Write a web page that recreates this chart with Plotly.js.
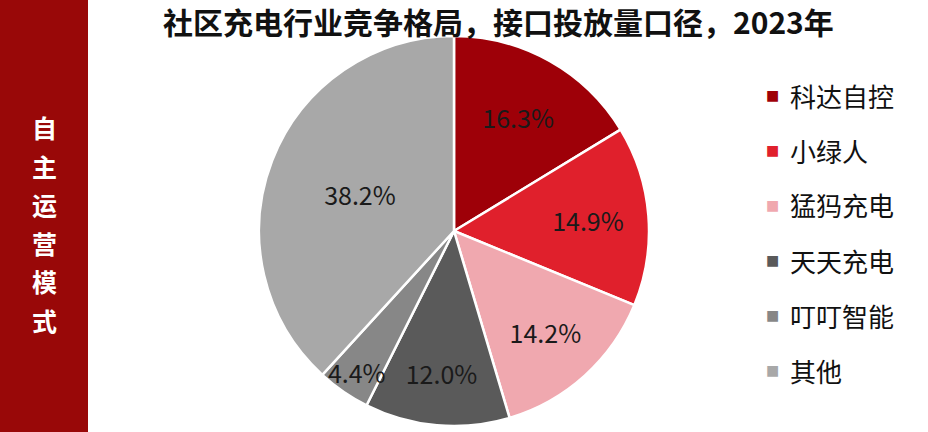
<!DOCTYPE html>
<html>
<head>
<meta charset="utf-8">
<script src="https://cdn.plot.ly/plotly-3.0.1.min.js"></script>
<style>html,body{margin:0;padding:0;background:#fff;}#chart{width:928px;height:432px;}</style>
</head>
<body>
<div id="chart"></div>
<script>
// Data
const companies = ["科达自控", "小绿人", "猛犸充电", "天天充电", "叮叮智能", "其他"];
const shares = [16.3, 14.9, 14.2, 12.0, 4.4, 38.2];
const sliceColors = ["#9E0008", "#E0202C", "#F0A8AF", "#5A5A5A", "#878787", "#A8A8A8"];
const chartTitle = "社区充电行业竞争格局，接口投放量口径，2023年";
const sideLabel = "自主运营模式";

const W = 928, H = 432;
const cjk = '"Noto Sans CJK SC", "Noto Sans", sans-serif';

const trace = {
  type: 'pie',
  labels: companies,
  values: shares,
  sort: false,
  direction: 'clockwise',
  rotation: 0,
  marker: {colors: sliceColors, line: {color: '#ffffff', width: 2.5}},
  texttemplate: '%{value:.1f}%',
  textposition: 'inside',
  insidetextorientation: 'horizontal',
  textfont: {family: cjk, size: 25, color: '#1a1a1a'},
  hoverinfo: 'label+percent',
  showlegend: false,
  domain: {x: [259 / W, 649 / W], y: [1 - 426 / H, 1 - 36 / H]}
};

const annotations = [];
const shapes = [];

// Left vertical banner
shapes.push({type: 'rect', xref: 'paper', yref: 'paper', x0: 0, x1: 88 / W, y0: 0, y1: 1,
  fillcolor: '#990808', line: {width: 0}, layer: 'below'});
const chars = Array.from(sideLabel);
chars.forEach((c, i) => {
  annotations.push({xref: 'paper', yref: 'paper', x: 44 / W, y: 1 - (127 + i * 38.5) / H,
    text: '<b>' + c + '</b>', showarrow: false, font: {family: cjk, size: 25, color: '#ffffff'},
    xanchor: 'center', yanchor: 'middle'});
});

// Title
annotations.push({xref: 'paper', yref: 'paper', x: 498 / W, y: 1 - 21 / H, text: '<b>' + chartTitle + '</b>',
  showarrow: false, borderpad: 0, font: {family: cjk, size: 30, color: '#111111'}, xanchor: 'center', yanchor: 'middle'});

// Legend (custom, for spacing)
companies.forEach((name, i) => {
  const yy = 1 - (95 + i * 55) / H;
  annotations.push({xref: 'paper', yref: 'paper', x: 772 / W, y: yy, text: '■', showarrow: false,
    font: {family: 'DejaVu Sans', size: 14, color: sliceColors[i]}, xanchor: 'center', yanchor: 'middle'});
  annotations.push({xref: 'paper', yref: 'paper', x: 788 / W, y: yy, text: name, showarrow: false,
    font: {family: cjk, size: 26, color: '#111111'}, xanchor: 'left', yanchor: 'middle'});
});

const layout = {
  width: W, height: H,
  margin: {l: 0, r: 0, t: 0, b: 0},
  paper_bgcolor: '#ffffff',
  showlegend: false,
  uniformtext: {mode: 'show', minsize: 25},
  shapes: shapes,
  annotations: annotations
};

Plotly.newPlot('chart', [trace], layout, {displayModeBar: false, staticPlot: true});
</script>
</body>
</html>
